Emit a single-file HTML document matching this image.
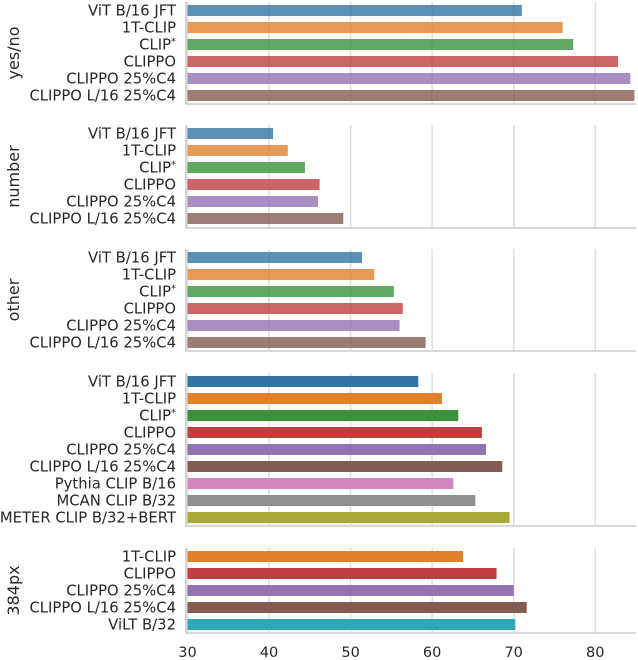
<!DOCTYPE html>
<html><head><meta charset="utf-8"><style>
body{margin:0;background:#fff}
svg{display:block}
text{font-family:"DejaVu Sans","Liberation Sans",sans-serif;fill:#262626}
</style></head><body>
<svg id="chart" width="638" height="660" viewBox="0 0 638 660"></svg>
<script>
const panelTitles = ["yes/no","number","other","","384px"];
const cats1 = ["ViT B/16 JFT","1T-CLIP","CLIP*","CLIPPO","CLIPPO 25%C4","CLIPPO L/16 25%C4"];
const cats4 = ["ViT B/16 JFT","1T-CLIP","CLIP*","CLIPPO","CLIPPO 25%C4","CLIPPO L/16 25%C4","Pythia CLIP B/16","MCAN CLIP B/32","METER CLIP B/32+BERT"];
const cats5 = ["1T-CLIP","CLIPPO","CLIPPO 25%C4","CLIPPO L/16 25%C4","ViLT B/32"];
const valsYesNo = [71.0,76.0,77.3,82.8,84.3,84.8];
const valsNumber = [40.5,42.3,44.4,46.2,46.0,49.1];
const valsOther = [51.4,52.9,55.3,56.4,56.0,59.2];
const valsAll = [58.3,61.2,63.2,66.1,66.6,68.6,62.6,65.3,69.5];
const vals384 = [63.8,67.9,70.0,71.6,70.2];
const xTicks = [30,40,50,60,70,80];
const pal = ["#3274a1","#e1812c","#3a923a","#c03d3e","#9372b2","#845b53","#d684bd","#8f8f8f","#a9aa35","#2ea8b8"];
const palIdx5 = [1,3,4,5,9];
const svg = document.getElementById('chart');
const NS = "http://www.w3.org/2000/svg";
const X0=187.5, XR=636, xmin=30, xmax=85;
function x(v){return X0+(v-xmin)*(XR-X0)/(xmax-xmin);}
function mk(t,a,p){const e=document.createElementNS(NS,t);for(const k in a)e.setAttribute(k,a[k]);(p||svg).appendChild(e);return e;}
const panels=[
 {top:2,bar0:5,axis:104,cats:cats1,vals:valsYesNo,op:0.8,idx:[0,1,2,3,4,5]},
 {top:125,bar0:128,axis:228,cats:cats1,vals:valsNumber,op:0.8,idx:[0,1,2,3,4,5]},
 {top:249,bar0:252,axis:351,cats:cats1,vals:valsOther,op:0.8,idx:[0,1,2,3,4,5]},
 {top:373,bar0:376,axis:526,cats:cats4,vals:valsAll,op:1,idx:[0,1,2,3,4,5,6,7,8]},
 {top:548,bar0:551,axis:633,cats:cats5,vals:vals384,op:1,idx:palIdx5}
];
panels.forEach((P,pi)=>{
  const g=mk('g',{});
  
  
  xTicks.forEach(t=>{
    const l=mk('line',{x1:x(t),x2:x(t),y1:P.top,y2:P.axis,stroke:'#dedede','stroke-width':1.5},g);
    
    
  });
  P.cats.forEach((c,i)=>{
    const y=P.bar0+i*17;
    const r=mk('rect',{x:x(xmin),y:y,width:x(P.vals[i])-x(xmin),height:11,fill:pal[P.idx[i]],'fill-opacity':P.op},g);
    
    
    const tx=mk('text',{x:176,y:y+10.5,'text-anchor':'end','font-size':14.8},g);
    
    
    if(c.endsWith('*')){tx.textContent=c.slice(0,-1);const s=mk('tspan',{'font-size':10,dy:-5},tx);s.textContent='*';}
    else tx.textContent=c;
  });
  const sp=mk('path',{d:`M${X0-1.5},${P.top} V${P.axis} H${XR}`,fill:'none',stroke:'#cccccc','stroke-width':1.5},g);
  
  
  if(panelTitles[pi]){
    const cy=(P.top+P.axis)/2;
    const tt=mk('text',{x:19,y:cy,'text-anchor':'middle','font-size':16,transform:`rotate(-90 19 ${cy})`},g);
    
    
    tt.textContent=panelTitles[pi];
  }
});
xTicks.forEach(t=>{
  const tx=mk('text',{x:x(t),y:657,'text-anchor':'middle','font-size':14.5});
  
  
  tx.textContent=t;
});
</script>
</body></html>
